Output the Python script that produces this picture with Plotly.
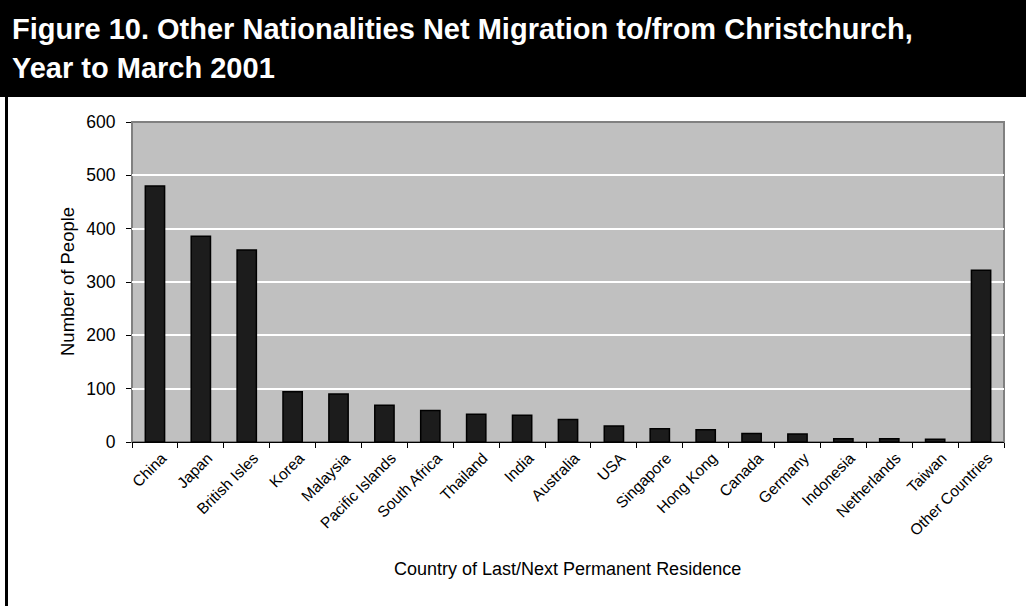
import plotly.graph_objects as go

categories = ["China", "Japan", "British Isles", "Korea", "Malaysia", "Pacific Islands",
              "South Africa", "Thailand", "India", "Australia", "USA", "Singapore",
              "Hong Kong", "Canada", "Germany", "Indonesia", "Netherlands", "Taiwan",
              "Other Countries"]
net_migration = [480, 386, 360, 94, 90, 69, 59, 52, 50, 42, 30, 25, 23, 16, 15, 6, 6, 5, 322]
y_ticks = [0, 100, 200, 300, 400, 500, 600]

title_line1 = "Figure 10. Other Nationalities Net Migration to/from Christchurch,"
title_line2 = "Year to March 2001"
x_title = "Country of Last/Next Permanent Residence"
y_title = "Number of People"

W, H = 1026, 606
L, R, T, B = 132, 1004, 122, 442
FONT = "Arial, Liberation Sans, sans-serif"


def px(x):
    return (x - L) / (R - L)


def py(y):
    return (B - y) / (B - T)


fig = go.Figure()
fig.add_trace(go.Bar(
    x=categories, y=net_migration,
    marker=dict(color="#1c1c1c", line=dict(color="#000000", width=1.5)),
    hoverinfo="x+y",
))

title_font = dict(family=FONT, size=29, color="white", weight="bold")

fig.update_layout(
    width=W, height=H,
    margin=dict(l=L, r=W - R, t=T, b=H - B, pad=0),
    paper_bgcolor="white",
    plot_bgcolor="#c0c0c0",
    bargap=0.58,
    showlegend=False,
    font=dict(family=FONT, color="black", size=15),
    xaxis=dict(
        type="category", tickangle=-45, tickson="boundaries",
        ticks="outside", ticklen=5, tickcolor="black", tickwidth=1,
        showline=True, linecolor="#000000", linewidth=1,
        showgrid=False, tickfont=dict(size=15.5, family=FONT, color="black"),
        ticklabelshift=7,
    ),
    yaxis=dict(
        range=[0, 600], tickvals=y_ticks, ticks="outside", ticklen=5,
        tickcolor="black", tickwidth=1, showline=False,
        showgrid=True, gridcolor="white", gridwidth=2,
        zeroline=False, tickfont=dict(size=17.5, family=FONT, color="black"),
        ticklabelstandoff=7,
    ),
    shapes=[
        # title band
        dict(type="rect", xref="paper", yref="paper",
             x0=px(0), x1=px(W), y0=py(97), y1=py(0),
             fillcolor="black", line=dict(width=0), layer="below"),
        # left frame line
        dict(type="rect", xref="paper", yref="paper",
             x0=px(5), x1=px(8), y0=py(H), y1=py(97),
             fillcolor="black", line=dict(width=0), layer="below"),
        # plot area border
        dict(type="rect", xref="paper", yref="paper",
             x0=0, x1=1, y0=0, y1=1,
             line=dict(color="#808080", width=2), layer="below"),
    ],
    annotations=[
        dict(text=title_line1, xref="paper", yref="paper",
             x=px(10), y=py(29), xanchor="left", yanchor="middle", align="left",
             showarrow=False, font=title_font),
        dict(text=title_line2, xref="paper", yref="paper",
             x=px(10), y=py(68), xanchor="left", yanchor="middle", align="left",
             showarrow=False, font=title_font),
        dict(text=x_title, xref="paper", yref="paper",
             x=px(567), y=py(569), xanchor="center", yanchor="middle",
             showarrow=False, font=dict(family=FONT, size=18, color="black")),
        dict(text=y_title, xref="paper", yref="paper",
             x=px(67), y=py(282), xanchor="center", yanchor="middle",
             textangle=-90, showarrow=False,
             font=dict(family=FONT, size=18.5, color="black")),
    ],
)

fig.write_html("out.html", config={"displayModeBar": False},
               post_script="document.body.style.margin='0px';")
